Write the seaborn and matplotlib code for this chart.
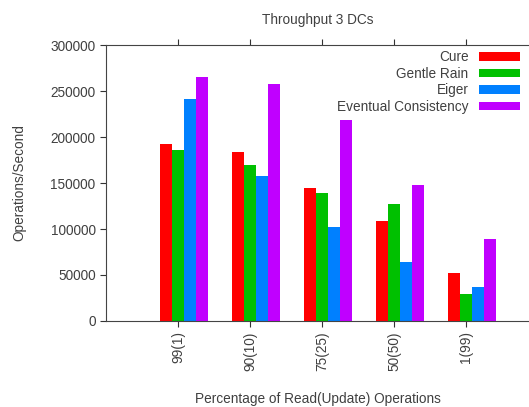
import matplotlib
matplotlib.use("Agg")
import matplotlib.pyplot as plt
import pandas as pd
import seaborn as sns

workloads = ["99(1)", "90(10)", "75(25)", "50(50)", "1(99)"]
systems = ["Cure", "Gentle Rain", "Eiger", "Eventual Consistency"]
cure = [192000, 184000, 145000, 109000, 52000]
gentle_rain = [186000, 170000, 139000, 127000, 29000]
eiger = [241000, 158000, 102000, 64000, 37000]
eventual = [265000, 258000, 218000, 148000, 89000]
colors = ["#ff0000", "#00c000", "#0080ff", "#c000ff"]

rows = []
for name, vals in zip(systems, [cure, gentle_rain, eiger, eventual]):
	for w, v in zip(workloads, vals):
		rows.append({"workload": w, "system": name, "ops": v})
df = pd.DataFrame(rows)

sns.set_style("white")
plt.rcParams["font.family"] = ["Liberation Sans", "DejaVu Sans"]
text_color = "#404040"
fs = 9.8

fig = plt.figure(figsize=(5.29, 4.07), dpi=100)
ax = fig.add_axes([106 / 529, 1 - 321 / 407, 424 / 529, 276 / 407])
sns.barplot(data=df, x="workload", y="ops", hue="system", palette=colors,
			width=0.667, gap=0, saturation=1, linewidth=0, ax=ax)

ax.set_ylim(0, 300000)
ax.set_yticks(range(0, 300001, 50000))
ax.set_xlim(-1.083, 4.806)
ax.set_xticks([i - 0.083 for i in range(len(workloads))])
ax.set_xticklabels(workloads, rotation=90, color=text_color, fontsize=fs)
ax.tick_params(axis="y", labelcolor=text_color, labelsize=fs)
ax.tick_params(axis="both", direction="out", length=4, width=0.8, color="#333333",
			   left=True, bottom=True, top=True)
for side in ["left", "bottom", "top"]:
	ax.spines[side].set_color("#444444")
	ax.spines[side].set_linewidth(0.8)
# right border falls outside the picture in the original
ax.spines["right"].set_visible(False)

ax.set_xlabel("Percentage of Read(Update) Operations", color=text_color, fontsize=fs, labelpad=15)
ax.set_ylabel("Operations/Second", color=text_color, fontsize=fs, labelpad=17)
ax.set_title("Throughput 3 DCs", color=text_color, fontsize=fs, pad=15)

leg = ax.legend(loc="upper right", bbox_to_anchor=(0.99, 1.0), frameon=False,
				markerfirst=False, fontsize=fs, handlelength=3.0, handleheight=0.6,
				labelspacing=0.18, handletextpad=0.8, borderaxespad=0)
# right-align rows so the labels end next to the swatches (gnuplot style)
for col in leg._legend_handle_box.get_children():
	col.align = "right"
for t in leg.get_texts():
	t.set_color(text_color)

fig.savefig("out.png", dpi=100)
